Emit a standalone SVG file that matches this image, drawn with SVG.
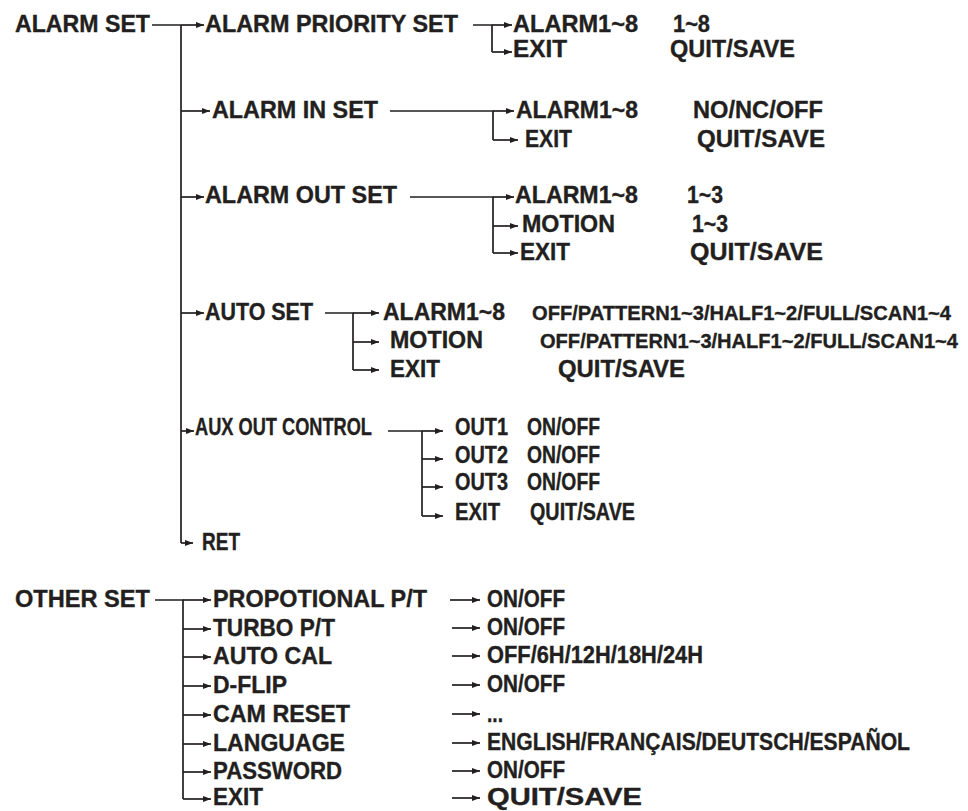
<svg xmlns="http://www.w3.org/2000/svg" width="968" height="811" viewBox="0 0 968 811">
<defs>
<style>
text{font-family:"Liberation Sans",Arial,sans-serif;font-weight:bold;font-size:23px;fill:#231f20;stroke:#231f20;stroke-width:0.35}
text.s{font-size:20px}
.c{fill:none;stroke:#231f20;stroke-width:1.7}
.a{marker-end:url(#ah)}
</style>
<marker id="ah" markerWidth="8" markerHeight="6" refX="8" refY="3" orient="auto" markerUnits="userSpaceOnUse"><path d="M0,0 L8,3 L0,6 z" fill="#231f20"/></marker>
</defs>
<rect width="968" height="811" fill="#fff"/>
<g id="connectors">
<path class="c" d="M152,25 H181 M181,25 V543"/>
<path class="c a" d="M181,25 H204"/>
<path class="c a" d="M181,111 H210"/>
<path class="c a" d="M181,197 H204"/>
<path class="c a" d="M181,313 H204"/>
<path class="c a" d="M181,431 H194"/>
<path class="c a" d="M181,543 H193"/>
<path class="c" d="M473,25 H492 V52"/>
<path class="c a" d="M492,25 H512"/>
<path class="c a" d="M492,52 H512"/>
<path class="c" d="M390,111 H493 V140"/>
<path class="c a" d="M493,111 H514"/>
<path class="c a" d="M493,140 H518"/>
<path class="c" d="M410,197 H493 V253"/>
<path class="c a" d="M493,197 H514"/>
<path class="c a" d="M493,226 H518"/>
<path class="c a" d="M493,253 H518"/>
<path class="c" d="M325,313 H353 V370"/>
<path class="c a" d="M353,313 H379"/>
<path class="c a" d="M353,342 H379"/>
<path class="c a" d="M353,370 H379"/>
<path class="c" d="M388,431 H422 V516"/>
<path class="c a" d="M422,431 H443"/>
<path class="c a" d="M422,459 H443"/>
<path class="c a" d="M422,487 H443"/>
<path class="c a" d="M422,516 H443"/>
<path class="c" d="M155,600 H183 V799"/>
<path class="c a" d="M183,600 H211"/>
<path class="c a" d="M183,629 H211"/>
<path class="c a" d="M183,657 H211"/>
<path class="c a" d="M183,686 H211"/>
<path class="c a" d="M183,715 H211"/>
<path class="c a" d="M183,744 H211"/>
<path class="c a" d="M183,772 H211"/>
<path class="c a" d="M183,799 H211"/>
<path class="c a" d="M450,600 H480"/>
<path class="c a" d="M452,628 H480"/>
<path class="c a" d="M452,656 H480"/>
<path class="c a" d="M452,685 H480"/>
<path class="c a" d="M452,714 H480"/>
<path class="c a" d="M452,743 H480"/>
<path class="c a" d="M452,771 H480"/>
<path class="c a" d="M452,798 H480"/>
</g>
<g id="alarm-set"><text x="15" y="32" textLength="135" lengthAdjust="spacingAndGlyphs">ALARM SET</text></g>
<g id="alarm-priority-set"><text x="205" y="32" textLength="253" lengthAdjust="spacingAndGlyphs">ALARM PRIORITY SET</text></g>
<g id="ap-alarm"><text x="513" y="32" textLength="125" lengthAdjust="spacingAndGlyphs">ALARM1~8</text><text x="673" y="32" textLength="37" lengthAdjust="spacingAndGlyphs">1~8</text></g>
<g id="ap-exit"><text x="513" y="57" textLength="54" lengthAdjust="spacingAndGlyphs">EXIT</text><text x="670" y="57" textLength="125" lengthAdjust="spacingAndGlyphs">QUIT/SAVE</text></g>
<g id="alarm-in-set"><text x="212" y="118" textLength="166" lengthAdjust="spacingAndGlyphs">ALARM IN SET</text></g>
<g id="ai-alarm"><text x="516" y="118" textLength="122" lengthAdjust="spacingAndGlyphs">ALARM1~8</text><text x="693" y="118" textLength="130" lengthAdjust="spacingAndGlyphs">NO/NC/OFF</text></g>
<g id="ai-exit"><text x="525" y="147" textLength="47" lengthAdjust="spacingAndGlyphs">EXIT</text><text x="697" y="147" textLength="128" lengthAdjust="spacingAndGlyphs">QUIT/SAVE</text></g>
<g id="alarm-out-set"><text x="205" y="203" textLength="192" lengthAdjust="spacingAndGlyphs">ALARM OUT SET</text></g>
<g id="ao-alarm"><text x="515" y="203" textLength="123" lengthAdjust="spacingAndGlyphs">ALARM1~8</text><text x="687" y="203" textLength="36" lengthAdjust="spacingAndGlyphs">1~3</text></g>
<g id="ao-motion"><text x="522" y="232" textLength="93" lengthAdjust="spacingAndGlyphs">MOTION</text><text x="692" y="232" textLength="36" lengthAdjust="spacingAndGlyphs">1~3</text></g>
<g id="ao-exit"><text x="520" y="260" textLength="50" lengthAdjust="spacingAndGlyphs">EXIT</text><text x="690" y="260" textLength="133" lengthAdjust="spacingAndGlyphs">QUIT/SAVE</text></g>
<g id="auto-set"><text x="205" y="320" textLength="108" lengthAdjust="spacingAndGlyphs">AUTO SET</text></g>
<g id="as-alarm"><text x="383" y="320" textLength="122" lengthAdjust="spacingAndGlyphs">ALARM1~8</text><text class="s" x="532" y="320" textLength="419" lengthAdjust="spacingAndGlyphs">OFF/PATTERN1~3/HALF1~2/FULL/SCAN1~4</text></g>
<g id="as-motion"><text x="390" y="348" textLength="93" lengthAdjust="spacingAndGlyphs">MOTION</text><text class="s" x="540" y="348" textLength="418" lengthAdjust="spacingAndGlyphs">OFF/PATTERN1~3/HALF1~2/FULL/SCAN1~4</text></g>
<g id="as-exit"><text x="390" y="377" textLength="50" lengthAdjust="spacingAndGlyphs">EXIT</text><text x="558" y="377" textLength="127" lengthAdjust="spacingAndGlyphs">QUIT/SAVE</text></g>
<g id="aux-out-control"><text x="195" y="435" textLength="177" lengthAdjust="spacingAndGlyphs">AUX OUT CONTROL</text></g>
<g id="out1"><text x="455" y="435" textLength="53" lengthAdjust="spacingAndGlyphs">OUT1</text><text x="527" y="435" textLength="73" lengthAdjust="spacingAndGlyphs">ON/OFF</text></g>
<g id="out2"><text x="455" y="463" textLength="53" lengthAdjust="spacingAndGlyphs">OUT2</text><text x="527" y="463" textLength="73" lengthAdjust="spacingAndGlyphs">ON/OFF</text></g>
<g id="out3"><text x="455" y="490" textLength="53" lengthAdjust="spacingAndGlyphs">OUT3</text><text x="527" y="490" textLength="73" lengthAdjust="spacingAndGlyphs">ON/OFF</text></g>
<g id="aux-exit"><text x="455" y="520" textLength="45" lengthAdjust="spacingAndGlyphs">EXIT</text><text x="530" y="520" textLength="105" lengthAdjust="spacingAndGlyphs">QUIT/SAVE</text></g>
<g id="ret"><text x="202" y="550" textLength="38" lengthAdjust="spacingAndGlyphs">RET</text></g>
<g id="other-set"><text x="15" y="607" textLength="135" lengthAdjust="spacingAndGlyphs">OTHER SET</text></g>
<g id="propotional"><text x="213" y="607" textLength="214" lengthAdjust="spacingAndGlyphs">PROPOTIONAL P/T</text><text x="487" y="607" textLength="78" lengthAdjust="spacingAndGlyphs">ON/OFF</text></g>
<g id="turbo"><text x="213" y="636" textLength="122" lengthAdjust="spacingAndGlyphs">TURBO P/T</text><text x="487" y="635" textLength="78" lengthAdjust="spacingAndGlyphs">ON/OFF</text></g>
<g id="auto-cal"><text x="213" y="664" textLength="119" lengthAdjust="spacingAndGlyphs">AUTO CAL</text><text x="487" y="663" textLength="216" lengthAdjust="spacingAndGlyphs">OFF/6H/12H/18H/24H</text></g>
<g id="d-flip"><text x="213" y="693" textLength="74" lengthAdjust="spacingAndGlyphs">D-FLIP</text><text x="487" y="692" textLength="78" lengthAdjust="spacingAndGlyphs">ON/OFF</text></g>
<g id="cam-reset"><text x="213" y="722" textLength="137" lengthAdjust="spacingAndGlyphs">CAM RESET</text><text x="487" y="722" textLength="16" lengthAdjust="spacingAndGlyphs">...</text></g>
<g id="language"><text x="213" y="751" textLength="132" lengthAdjust="spacingAndGlyphs">LANGUAGE</text><text x="487" y="750" textLength="423" lengthAdjust="spacingAndGlyphs">ENGLISH/FRANÇAIS/DEUTSCH/ESPAÑOL</text></g>
<g id="password"><text x="213" y="779" textLength="129" lengthAdjust="spacingAndGlyphs">PASSWORD</text><text x="487" y="778" textLength="78" lengthAdjust="spacingAndGlyphs">ON/OFF</text></g>
<g id="other-exit"><text x="213" y="805" textLength="50" lengthAdjust="spacingAndGlyphs">EXIT</text><text x="487" y="805" textLength="155" lengthAdjust="spacingAndGlyphs">QUIT/SAVE</text></g>
</svg>
